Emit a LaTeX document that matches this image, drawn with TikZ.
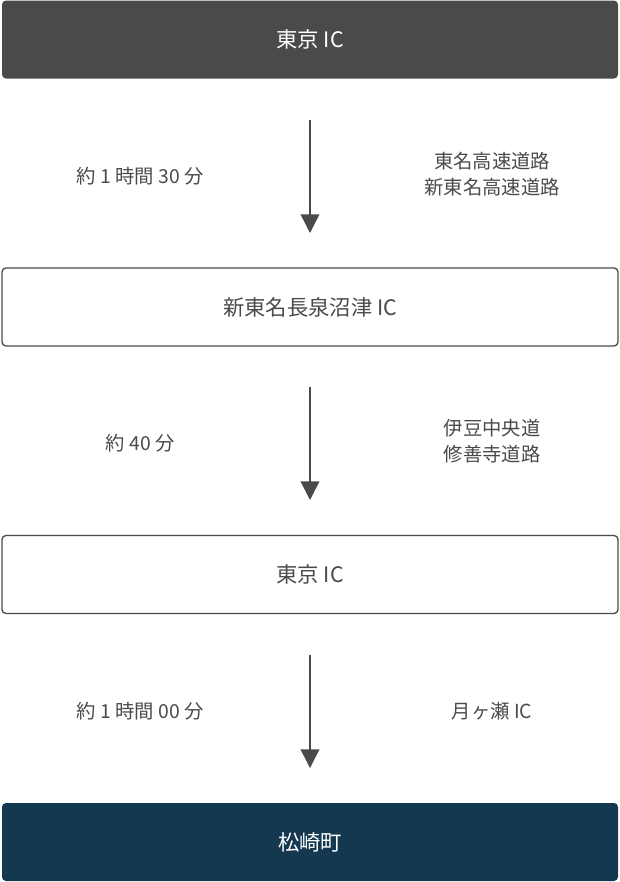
\documentclass[tikz,border=0pt]{standalone}
\usepackage{fontspec}
\setmainfont{Noto Sans CJK JP}
\usetikzlibrary{arrows.meta}
\definecolor{darkgrey}{HTML}{4A4A4A}
\definecolor{navy}{HTML}{143850}
\begin{document}
\begin{tikzpicture}[
    x=0.75pt, y=-0.75pt,
    stepbox/.style={rectangle, rounded corners=3pt, minimum width=616*0.75pt, minimum height=78*0.75pt, font=\fontsize{16}{19}\selectfont, inner sep=0pt},
    plainbox/.style={stepbox, draw=darkgrey, line width=1pt, fill=white, text=darkgrey},
    timelabel/.style={font=\fontsize{14.5}{20}\selectfont, text=darkgrey},
    roadlabel/.style={font=\fontsize{14.5}{20}\selectfont, text=darkgrey, align=center},
    flow/.style={-{Triangle[width=14pt,length=14pt]}, darkgrey, line width=1.1pt}
]
    \useasboundingbox (0,0) rectangle (620,882);
    % Stations
    \node[stepbox, fill=darkgrey, text=white] (tokyo) at (310, 39.5) {東京 IC};
    \node[plainbox] (nagaizumi) at (310, 307) {新東名長泉沼津 IC};
    \node[plainbox] (tokyo2) at (310, 574.5) {東京 IC};
    \node[stepbox, fill=navy, text=white] (matsuzaki) at (310, 842) {松崎町};

    % Legs
    \coordinate (a1) at (310, 120); \coordinate (b1) at (310, 233);
    \coordinate (a2) at (310, 387); \coordinate (b2) at (310, 500);
    \coordinate (a3) at (310, 655); \coordinate (b3) at (310, 768);
    \draw[flow] (a1) -- (b1);
    \draw[flow] (a2) -- (b2);
    \draw[flow] (a3) -- (b3);

    \node[timelabel] (t1) at (140, 176) {約 1 時間 30 分};
    \node[roadlabel] (r1) at (492, 174) {東名高速道路\\新東名高速道路};
    \node[timelabel] (t2) at (140, 443) {約 40 分};
    \node[roadlabel] (r2) at (492, 441) {伊豆中央道\\修善寺道路};
    \node[timelabel] (t3) at (140, 711) {約 1 時間 00 分};
    \node[roadlabel] (r3) at (492, 711) {月ヶ瀬 IC};
\end{tikzpicture}
\end{document}
